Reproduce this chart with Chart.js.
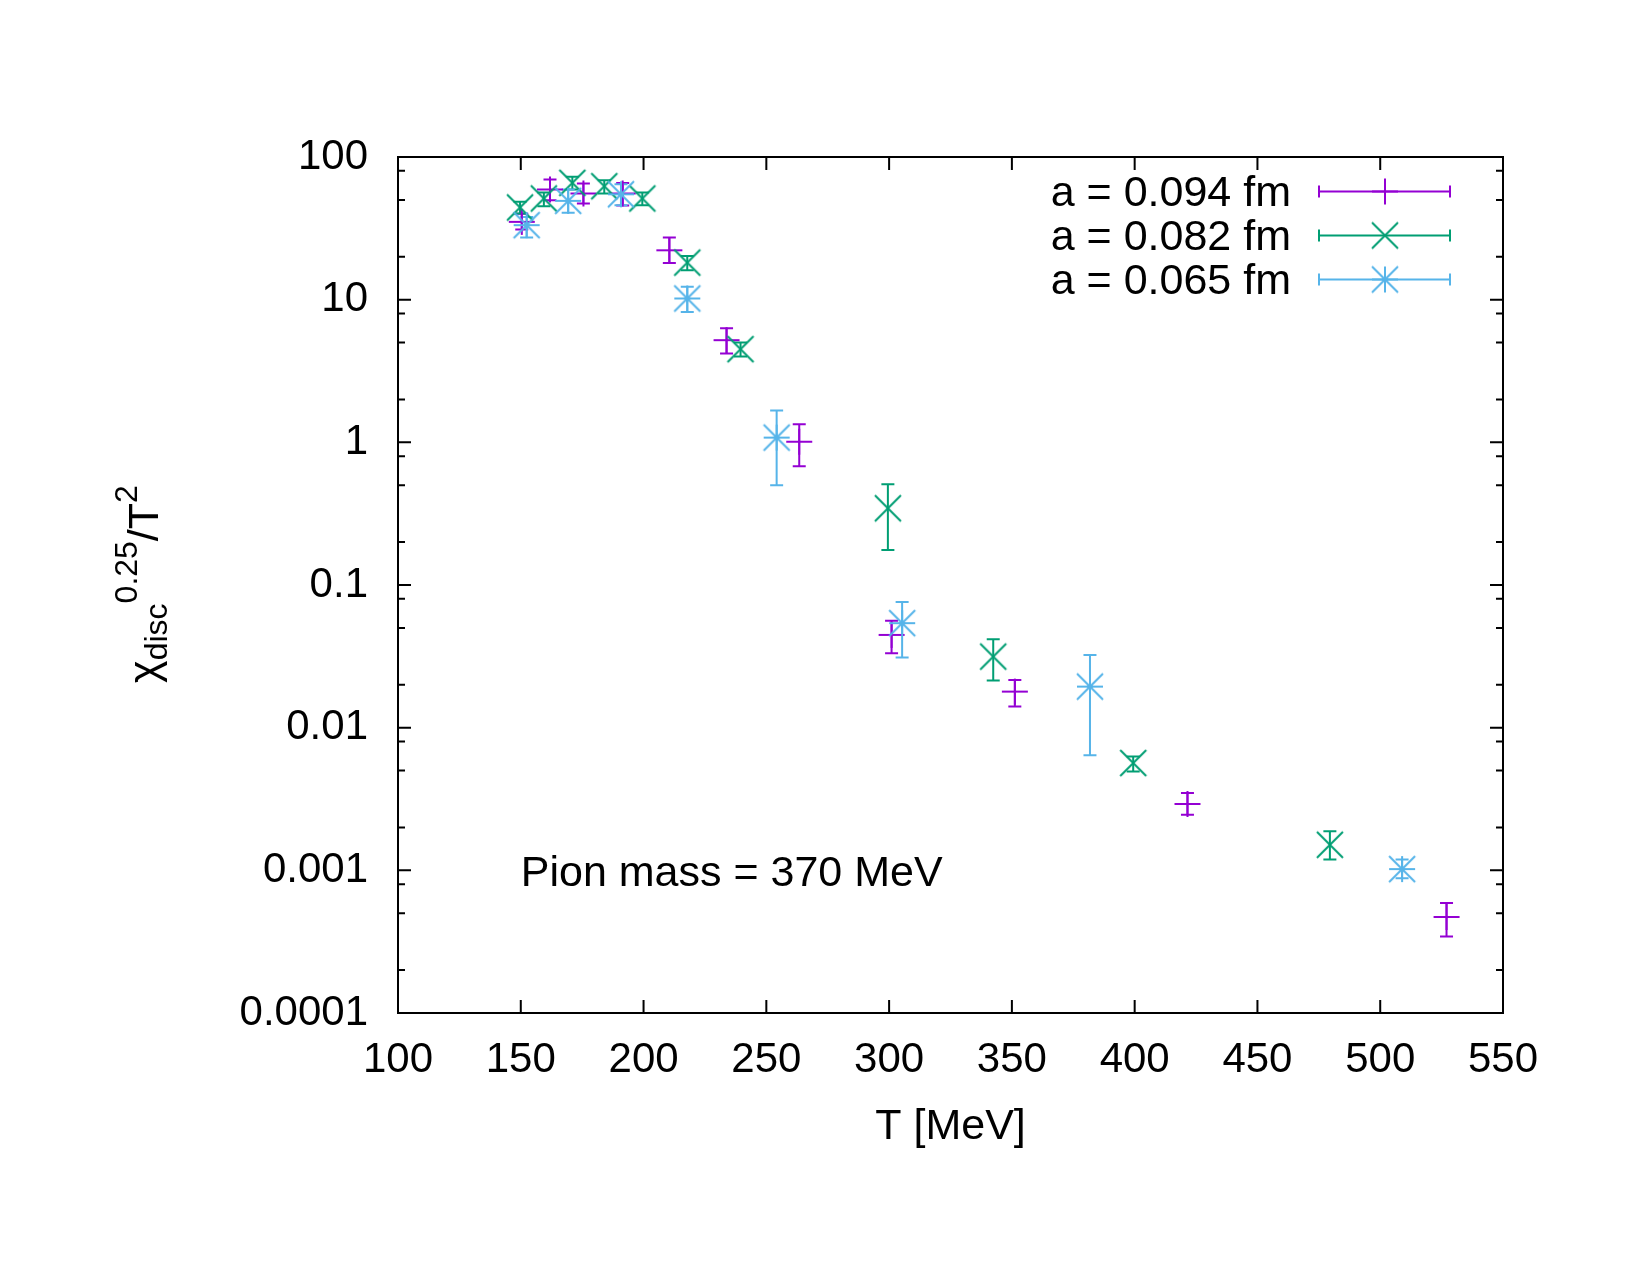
<!DOCTYPE html>
<html>
<head>
<meta charset="utf-8">
<script src="https://cdn.jsdelivr.net/npm/chart.js@4.4.1/dist/chart.umd.min.js"></script>
<style>
  body { margin: 0; background: #fff; }
  #wrap { width: 1650px; height: 1275px; }
</style>
</head>
<body>
<div id="wrap"><canvas id="grafico" width="1650" height="1275"></canvas></div>
<script>
  // a = 0.094 fm
  const t094 = [150.4, 161.9, 175.5, 191.5, 210.5, 233.8, 263.4, 301.0, 351.2, 421.5, 527.0];
  const y094 = [35.1, 59.2, 55.5, 55.5, 22.2, 5.2, 1.01, 0.0447, 0.0179, 0.00292, 0.000471];
  const lo094 = [31.0, 49.8, 47.2, 45.7, 18.1, 4.2, 0.68, 0.0333, 0.0141, 0.00245, 0.000344];
  const hi094 = [40.0, 69.5, 65.2, 65.6, 27.3, 6.3, 1.34, 0.0561, 0.0216, 0.00348, 0.00059];

  // a = 0.082 fm
  const t082 = [149.7, 159.4, 171.0, 184.0, 199.5, 217.8, 239.5, 299.5, 342.4, 399.4, 479.5];
  const y082 = [44.3, 51.2, 65.9, 62.4, 51.2, 18.2, 4.5, 0.345, 0.0315, 0.00565, 0.00151];
  const lo082 = [40.2, 45.2, 59.2, 55.5, 45.9, 16.1, 4.0, 0.176, 0.0214, 0.00493, 0.00119];
  const hi082 = [48.5, 56.4, 72.6, 68.8, 56.4, 20.2, 5.0, 0.508, 0.0417, 0.00628, 0.00188];

  // a = 0.065 fm
  const t065 = [152.4, 169.3, 190.8, 217.8, 254.2, 305.3, 381.8, 508.9];
  const y065 = [33.3, 49.3, 54.8, 10.2, 1.08, 0.054, 0.0194, 0.00102];
  const lo065 = [27.3, 40.6, 45.9, 8.2, 0.50, 0.031, 0.0064, 0.00088];
  const hi065 = [38.0, 59.2, 64.5, 12.3, 1.67, 0.0759, 0.0323, 0.00119];

  const rotulos = ['a = 0.094 fm', 'a = 0.082 fm', 'a = 0.065 fm'];
  const cores = ['#9400d3', '#009e73', '#56b4e9'];
  const xTicks = [100, 150, 200, 250, 300, 350, 400, 450, 500, 550];
  const yTicks = [0.0001, 0.001, 0.01, 0.1, 1, 10, 100];
  const yTickLabels = ['0.0001', '0.001', '0.01', '0.1', '1', '10', '100'];
  const yMinor = [2, 5, 8];

  const FONTE = '"Liberation Sans", Arial, sans-serif';

  // marcadores estilo gnuplot: + , x , *
  function marcador(tipo, cor) {
    const c = document.createElement('canvas');
    c.width = 30; c.height = 30;
    const g = c.getContext('2d');
    g.strokeStyle = cor;
    g.lineWidth = 2;
    g.beginPath();
    if (tipo === 'plus' || tipo === 'star') {
      g.moveTo(2, 15); g.lineTo(28, 15);
      g.moveTo(15, 2); g.lineTo(15, 28);
    }
    if (tipo === 'x' || tipo === 'star') {
      g.moveTo(2, 2); g.lineTo(28, 28);
      g.moveTo(28, 2); g.lineTo(2, 28);
    }
    g.stroke();
    return c;
  }
  const marcas = [marcador('plus', cores[0]), marcador('x', cores[1]), marcador('star', cores[2])];

  const series = [
    { t: t094, y: y094, lo: lo094, hi: hi094 },
    { t: t082, y: y082, lo: lo082, hi: hi082 },
    { t: t065, y: y065, lo: lo065, hi: hi065 }
  ];

  const datasets = series.map((s, k) => ({
    label: rotulos[k],
    data: s.t.map((t, i) => ({ x: t, y: s.y[i] })),
    pointStyle: marcas[k],
    pointRadius: 3,
    borderColor: cores[k],
    backgroundColor: cores[k],
    showLine: false,
    order: 2 - k
  }));

  // barras de erro verticais
  const barrasErro = {
    id: 'barrasErro',
    beforeDatasetsDraw(chart) {
      const { ctx, scales: { x, y } } = chart;
      ctx.save();
      ctx.lineWidth = 2;
      series.forEach((s, k) => {
        ctx.strokeStyle = cores[k];
        s.t.forEach((t, i) => {
          const px = x.getPixelForValue(t);
          const a = y.getPixelForValue(s.lo[i]);
          const b = y.getPixelForValue(s.hi[i]);
          ctx.beginPath();
          ctx.moveTo(px, a); ctx.lineTo(px, b);
          ctx.moveTo(px - 6.5, a); ctx.lineTo(px + 6.5, a);
          ctx.moveTo(px - 6.5, b); ctx.lineTo(px + 6.5, b);
          ctx.stroke();
        });
      });
      ctx.restore();
    }
  };

  // moldura, ticks, legenda e textos
  const moldura = {
    id: 'moldura',
    afterDraw(chart) {
      const { ctx, chartArea: ca, scales: { x, y } } = chart;
      ctx.save();
      ctx.strokeStyle = '#000';
      ctx.lineWidth = 2;
      ctx.strokeRect(ca.left, ca.top, ca.right - ca.left, ca.bottom - ca.top);

      ctx.beginPath();
      xTicks.forEach(v => {
        const px = x.getPixelForValue(v);
        ctx.moveTo(px, ca.bottom); ctx.lineTo(px, ca.bottom - 13);
        ctx.moveTo(px, ca.top); ctx.lineTo(px, ca.top + 13);
      });
      yTicks.forEach(v => {
        const py = y.getPixelForValue(v);
        ctx.moveTo(ca.left, py); ctx.lineTo(ca.left + 13, py);
        ctx.moveTo(ca.right, py); ctx.lineTo(ca.right - 13, py);
      });
      yTicks.slice(0, -1).forEach(v => {
        yMinor.forEach(m => {
          const py = y.getPixelForValue(v * m);
          ctx.moveTo(ca.left, py); ctx.lineTo(ca.left + 7, py);
          ctx.moveTo(ca.right, py); ctx.lineTo(ca.right - 7, py);
        });
      });
      ctx.stroke();

      // legenda
      ctx.font = '43px ' + FONTE;
      ctx.textAlign = 'right';
      ctx.textBaseline = 'middle';
      ctx.fillStyle = '#000';
      const linhas = [191.5, 235.5, 279.5];
      rotulos.forEach((r, k) => {
        const ly = linhas[k];
        ctx.fillText(r, 1291, ly + 3);
        ctx.strokeStyle = cores[k];
        ctx.beginPath();
        ctx.moveTo(1319, ly); ctx.lineTo(1450, ly);
        ctx.moveTo(1319, ly - 6); ctx.lineTo(1319, ly + 6);
        ctx.moveTo(1450, ly - 6); ctx.lineTo(1450, ly + 6);
        ctx.stroke();
        ctx.drawImage(marcas[k], 1385 - 15, ly - 15);
      });

      // rótulo
      ctx.textAlign = 'left';
      ctx.fillText('Pion mass = 370 MeV', x.getPixelForValue(150), y.getPixelForValue(0.001) + 4);

      // título do eixo y
      const partes = [
        { t: 'χ', s: 43, d: 0 },
        { t: 'disc', s: 32, d: 9 },
        { t: '0.25', s: 32, d: -21 },
        { t: '/T', s: 43, d: 0 },
        { t: '2', s: 32, d: -21 }
      ];
      let total = 0;
      partes.forEach(p => { ctx.font = p.s + 'px ' + FONTE; p.w = ctx.measureText(p.t).width; total += p.w; });
      ctx.translate(158, 584);
      ctx.rotate(-Math.PI / 2);
      ctx.textBaseline = 'alphabetic';
      let u = -total / 2;
      partes.forEach(p => {
        ctx.font = p.s + 'px ' + FONTE;
        ctx.fillText(p.t, u, p.d);
        u += p.w;
      });
      ctx.restore();
    }
  };

  new Chart(document.getElementById('grafico'), {
    type: 'scatter',
    data: { datasets: datasets },
    options: {
      responsive: false,
      animation: false,
      layout: { padding: { left: 0, top: 157, right: 147, bottom: 0 } },
      plugins: {
        legend: { display: false },
        tooltip: { enabled: false }
      },
      scales: {
        x: {
          type: 'linear',
          min: 100,
          max: 550,
          afterBuildTicks: s => { s.ticks = xTicks.map(v => ({ value: v })); },
          afterFit: s => { s.height = 262; },
          grid: { display: false, drawTicks: false },
          border: { display: false },
          ticks: { font: { family: FONTE, size: 42 }, color: '#000', padding: 22, maxRotation: 0 },
          title: { display: true, text: 'T [MeV]', color: '#000', font: { family: FONTE, size: 43 }, padding: { top: 0, bottom: 122 } }
        },
        y: {
          type: 'logarithmic',
          min: 0.0001,
          max: 100,
          afterBuildTicks: s => { s.ticks = yTicks.map(v => ({ value: v })); },
          afterFit: s => { s.width = 398; },
          grid: { display: false, drawTicks: false },
          border: { display: false },
          ticks: {
            font: { family: FONTE, size: 42 },
            color: '#000',
            padding: 30,
            callback: (v, i) => yTickLabels[i]
          }
        }
      }
    },
    plugins: [barrasErro, moldura]
  });
</script>
</body>
</html>
